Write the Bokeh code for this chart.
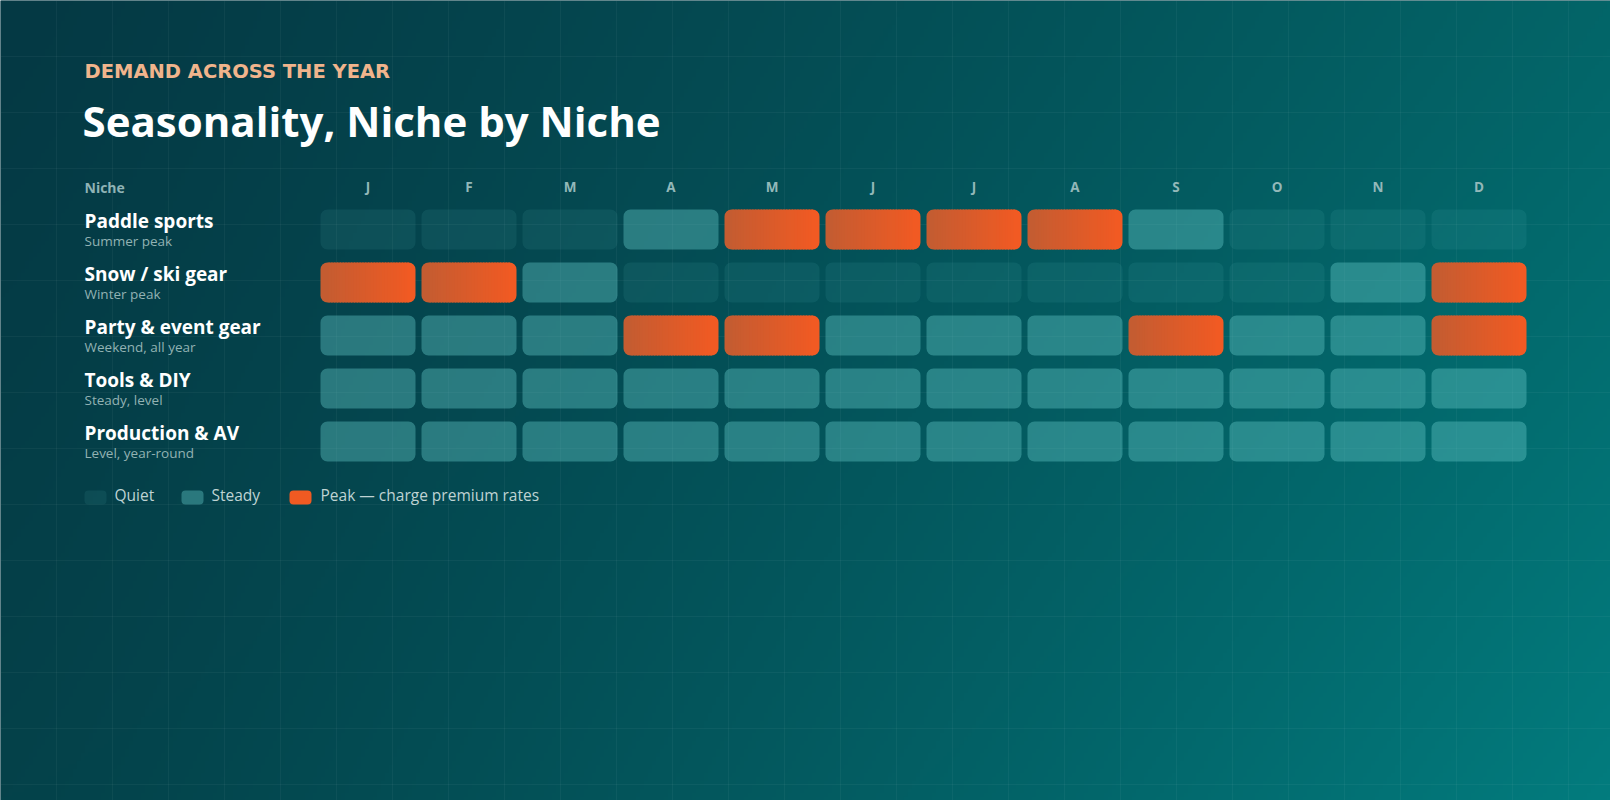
import numpy as np
from bokeh.plotting import figure
from bokeh.models import Range1d, Label, FixedTicker, Grid
from bokeh.core.properties import value
from bokeh.embed import file_html
from bokeh.resources import INLINE

# ---------------- data ----------------
months = ["J", "F", "M", "A", "M", "J", "J", "A", "S", "O", "N", "D"]
niches = ["Paddle sports", "Snow / ski gear", "Party & event gear", "Tools & DIY", "Production & AV"]
notes = ["Summer peak", "Winter peak", "Weekend, all year", "Steady, level", "Level, year-round"]
# demand level per month: 0 = quiet, 1 = steady, 2 = peak
paddle_sports = [0, 0, 0, 1, 2, 2, 2, 2, 1, 0, 0, 0]
snow_ski_gear = [2, 2, 1, 0, 0, 0, 0, 0, 0, 0, 1, 2]
party_event_gear = [1, 1, 1, 2, 2, 1, 1, 1, 2, 1, 1, 2]
tools_diy = [1, 1, 1, 1, 1, 1, 1, 1, 1, 1, 1, 1]
production_av = [1, 1, 1, 1, 1, 1, 1, 1, 1, 1, 1, 1]
level_names = ["Quiet", "Steady", "Peak — charge premium rates"]
subtitle = "DEMAND ACROSS THE YEAR"
title = "Seasonality, Niche by Niche"
header = "Niche"

demand = [paddle_sports, snow_ski_gear, party_event_gear, tools_diy, production_av]

# ---------------- layout (pixels) ----------------
W, H = 1610, 800
COL0, PITCH_X, CELL_W = 367.5, 101.0, 95.0
ROW0, PITCH_Y, CELL_H = 229.0, 53.0, 40.0
RADIUS = 7
FIX = 0.42   # baseline correction (fraction of font size) for the svg text renderer

def px_x(px):
    return (px - COL0) / PITCH_X

def px_y(py):
    return (ROW0 - py) / PITCH_Y

def base_y(py, size):
    """data y for a text whose alphabetic baseline should sit at pixel py"""
    return px_y(py - FIX * size)

FNAME = "Open Sans"
FONT = value(FNAME)
TEAL = "#5fc4c4"
PEAK_L = np.array([194, 92, 50])
PEAK_R = np.array([243, 90, 34])

p = figure(width=W, height=H, output_backend="svg", toolbar_location=None,
           x_range=Range1d(px_x(0), px_x(W)), y_range=Range1d(px_y(H), px_y(0)),
           x_axis_location=None, y_axis_location=None, min_border=0,
           tools="")
p.outline_line_color = None
p.background_fill_color = "#053b46"
p.border_fill_color = "#053b46"
p.center = []

# ---------------- background gradient ----------------
gh, gw = 200, 403
yy, xx = np.mgrid[0:gh, 0:gw]
u = xx / (gw - 1)
v = 1.0 - yy / (gh - 1)          # 0 top, 1 bottom (row 0 is drawn at the bottom)
TL = np.array([5, 57, 68]); TR = np.array([3, 101, 104])
BL = np.array([4, 66, 74]); BR = np.array([2, 124, 126])
uu = (u ** 1.2)[..., None]; vv = (v ** 1.1)[..., None]
col = (TL * (1 - uu) * (1 - vv) + TR * uu * (1 - vv) + BL * (1 - uu) * vv + BR * uu * vv)
col = np.clip(col, 0, 255).astype(np.uint32)
img = (255 << 24) | (col[..., 2] << 16) | (col[..., 1] << 8) | col[..., 0]
img = img.astype(np.uint32)
bg = p.image_rgba(image=[img], x=px_x(0), y=px_y(H), dw=px_x(W) - px_x(0), dh=px_y(0) - px_y(H))
bg.level = "image"

# faint grid every 56 px
gx = Grid(dimension=0, ticker=FixedTicker(ticks=[px_x(56 * k) for k in range(0, 30)]),
          grid_line_color="#ffffff", grid_line_alpha=0.045, grid_line_width=1)
gy = Grid(dimension=1, ticker=FixedTicker(ticks=[px_y(56 * k) for k in range(0, 15)]),
          grid_line_color="#ffffff", grid_line_alpha=0.045, grid_line_width=1)
p.add_layout(gx)
p.add_layout(gy)

# ---------------- cells ----------------
hw = CELL_W / PITCH_X / 2
hh = CELL_H / PITCH_Y / 2
cells = {0: dict(l=[], r=[], t=[], b=[]), 1: dict(l=[], r=[], t=[], b=[])}
peaks = []
for j, row in enumerate(demand):
    for i, lv in enumerate(row):
        if lv in (0, 1):
            c = cells[lv]
            c["l"].append(i - hw); c["r"].append(i + hw)
            c["t"].append(-j + hh); c["b"].append(-j - hh)
        else:
            peaks.append((i, j))

for lv, alpha in ((0, 0.10), (1, 0.42)):
    c = cells[lv]
    p.quad(left=c["l"], right=c["r"], top=c["t"], bottom=c["b"],
           fill_color=TEAL, fill_alpha=alpha, line_color=None, border_radius=RADIUS)

def hexc(t):
    c = PEAK_L + (PEAK_R - PEAK_L) * t
    return "#%02x%02x%02x" % tuple(int(round(x)) for x in c)

EDGE = 8.0 / PITCH_X
OVER = 1.2 / PITCH_X
NSTRIP = 28
le = dict(l=[], r=[], t=[], b=[], c=[])
mid = dict(l=[], r=[], t=[], b=[], c=[])
ri = dict(l=[], r=[], t=[], b=[], c=[])
for (i, j) in peaks:
    L, R = i - hw, i + hw
    T, B = -j + hh, -j - hh
    span = R - L
    le["l"].append(L); le["r"].append(L + EDGE + OVER); le["t"].append(T); le["b"].append(B)
    le["c"].append(hexc((EDGE / 2) / span))
    ri["l"].append(R - EDGE); ri["r"].append(R); ri["t"].append(T); ri["b"].append(B)
    ri["c"].append(hexc(1 - (EDGE / 2) / span))
    a, z = L + EDGE, R - EDGE
    sw = (z - a) / NSTRIP
    for k in range(NSTRIP):
        s0 = a + k * sw
        mid["l"].append(s0); mid["r"].append(s0 + sw + OVER)
        mid["t"].append(T); mid["b"].append(B)
        mid["c"].append(hexc((s0 + sw / 2 - L) / span))

p.quad(left=le["l"], right=le["r"], top=le["t"], bottom=le["b"], fill_color=le["c"],
       line_color=None, border_radius=(RADIUS, 0, 0, RADIUS))
p.quad(left=mid["l"], right=mid["r"], top=mid["t"], bottom=mid["b"], fill_color=mid["c"],
       line_color=None)
p.quad(left=ri["l"], right=ri["r"], top=ri["t"], bottom=ri["b"], fill_color=ri["c"],
       line_color=None, border_radius=(0, RADIUS, RADIUS, 0))

# ---------------- texts ----------------
p.text(x=list(range(12)), y=[base_y(192, 13.5)] * 12, text=months, text_font=FONT,
       text_font_style="bold", text_font_size="13.5px", text_color="#93b8b9",
       text_align="center", text_baseline="alphabetic")
p.text(x=[px_x(84)], y=[base_y(192.5, 14)], text=[header], text_font=FONT,
       text_font_style="bold", text_font_size="14px", text_color="#8fb3b5",
       text_align="left", text_baseline="alphabetic")

p.text(x=[px_x(84)] * len(niches),
       y=[base_y(228, 19) - j for j in range(len(niches))],
       text=niches, text_font=FONT, text_font_style="bold", text_font_size="19px",
       text_color="#ffffff", text_align="left", text_baseline="alphabetic")
p.text(x=[px_x(84)] * len(notes),
       y=[base_y(246, 13.5) - j for j in range(len(notes))],
       text=notes, text_font=FONT, text_font_size="13.5px",
       text_color="#92b2b3", text_align="left", text_baseline="alphabetic")

p.add_layout(Label(x=px_x(84), y=base_y(79.5, 19.5), text=subtitle, text_font="DejaVu Sans",
                   text_font_style="bold", text_font_size="19.5px", text_color="#f0b48c",
                   text_align="left", text_baseline="alphabetic"))
p.add_layout(Label(x=px_x(82), y=base_y(138, 42), text=title, text_font=FNAME,
                   text_font_style="bold", text_font_size="42px", text_color="#ffffff",
                   text_align="left", text_baseline="alphabetic"))

# ---------------- legend ----------------
sw_x = [84, 181, 289]
tx_x = [114, 211, 320]
sw_fill = [TEAL, TEAL, "#f05a22"]
sw_alpha = [0.10, 0.42, 1.0]
p.quad(left=[px_x(x) for x in sw_x], right=[px_x(x + 22) for x in sw_x],
       top=[px_y(490)] * 3, bottom=[px_y(504)] * 3, fill_color=sw_fill,
       fill_alpha=sw_alpha, line_color=None, border_radius=4)
p.text(x=[px_x(x) for x in tx_x], y=[base_y(501.5, 15.5)] * 3, text=level_names,
       text_font=FONT, text_font_size="15.5px", text_color="#bfd3d3", text_align="left",
       text_baseline="alphabetic")

open("out.html", "w").write(file_html(p, INLINE))
